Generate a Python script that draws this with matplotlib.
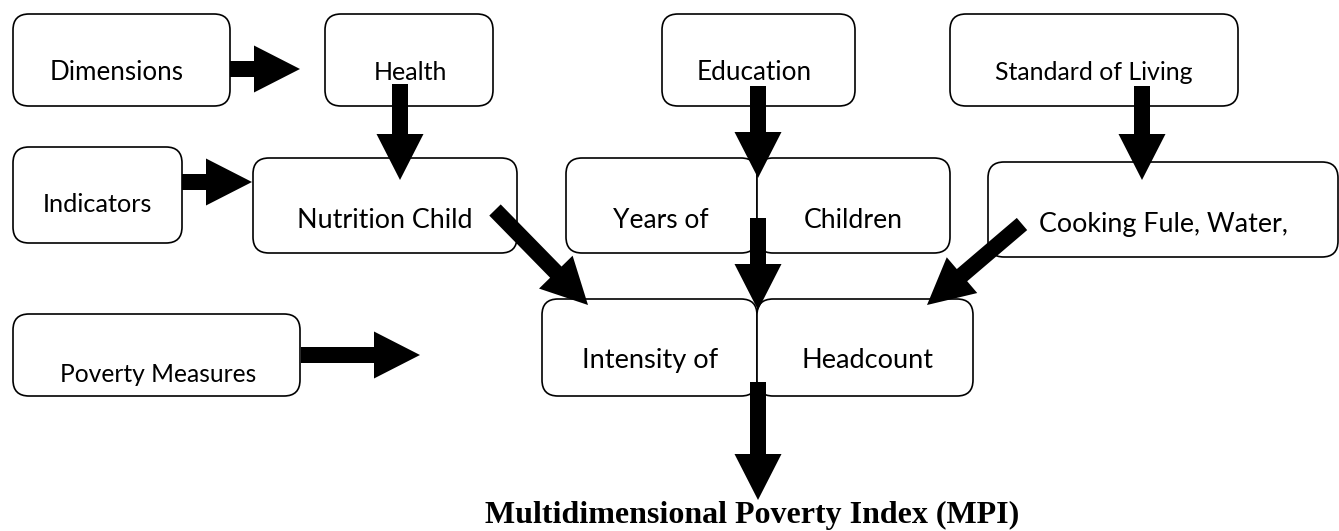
import matplotlib.pyplot as plt
from matplotlib.patches import FancyBboxPatch, FancyArrow
from matplotlib.transforms import Bbox, TransformedBbox

# boxes: label, left, top, right, bottom (picture pixels, y grows downward)
box_labels = ['Dimensions', 'Health', 'Education', 'Standard of Living',
              'Indicators', 'Nutrition Child', 'Years of', 'Children',
              'Cooking Fule, Water,', 'Poverty Measures', 'Intensity of', 'Headcount']
box_left = [13, 325, 662, 950, 13, 253, 566, 757, 988, 13, 542, 757]
box_top = [14, 14, 14, 14, 147, 158, 158, 158, 162, 314, 299, 299]
box_right = [230, 493, 855, 1238, 182, 517, 757, 950, 1338, 300, 757, 973]
box_bottom = [106, 106, 106, 106, 243, 253, 253, 253, 257, 396, 396, 396]
text_x = [117, 410, 754, 1094, 97, 385, 661, 853, 1163, 158, 650, 867]
text_y = [70, 70, 70, 70, 202, 218, 218, 218, 222, 372, 358, 358]

# arrows: start x, start y, end x, end y
arrow_x0 = [230, 182, 301, 400, 758, 1142, 758, 758, 495, 1022]
arrow_y0 = [69, 182, 355, 84, 86, 86, 218, 382, 210, 224]
arrow_x1 = [300, 252, 420, 400, 758, 1142, 758, 758, 588, 927]
arrow_y1 = [69, 182, 355, 180, 178, 180, 310, 500, 305, 305]

title = 'Multidimensional Poverty Index (MPI)'

label_sizes = [18.7, 18, 18.8, 17.9, 18.2, 19.4, 19, 19.2, 19.4, 17.7, 19.6, 19.5]

fig = plt.figure(figsize=(13.39, 5.31), dpi=100)
ax = fig.add_axes([0, 0, 1, 1])
ax.set_xlim(0, 1339)
ax.set_ylim(531, 0)
ax.axis('off')

for i, lab in enumerate(box_labels):
    w = box_right[i] - box_left[i]
    h = box_bottom[i] - box_top[i]
    ax.add_patch(FancyBboxPatch((box_left[i], box_top[i]), w, h,
                                boxstyle='round,pad=0,rounding_size=16',
                                facecolor='white', edgecolor='black', linewidth=1.2, zorder=1))
    t = ax.text(text_x[i], text_y[i], lab, fontsize=label_sizes[i], family='Lato',
                ha='center', va='center_baseline', zorder=2)
    if lab == 'Poverty Measures':
        # the source clips the descenders of this label
        t.set_clip_box(TransformedBbox(Bbox([[0, 0], [1339, 379]]), ax.transData))

for x0, y0, x1, y1 in zip(arrow_x0, arrow_y0, arrow_x1, arrow_y1):
    ax.add_patch(FancyArrow(x0, y0, x1 - x0, y1 - y0, width=16, head_width=47,
                            head_length=46, length_includes_head=True,
                            color='black', linewidth=0, zorder=3))

ax.text(752, 512, title, fontsize=23, family='Liberation Serif', weight='bold',
        ha='center', va='center_baseline')

fig.savefig('out.png', dpi=100)
